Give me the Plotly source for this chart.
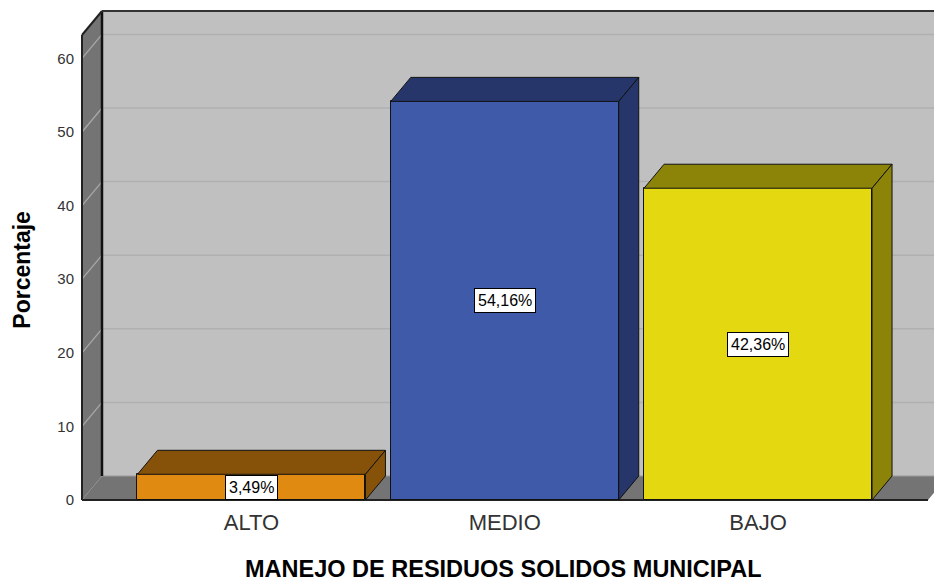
import plotly.graph_objects as go

# ---- data ----
categories = ["ALTO", "MEDIO", "BAJO"]
percentages = [3.49, 54.16, 42.36]
value_labels = ["3,49%", "54,16%", "42,36%"]
y_tick_values = [0, 10, 20, 30, 40, 50, 60]
front_colors = ["#E08A12", "#3F5AA8", "#E4D811"]
dark_colors = ["#86520A", "#26366A", "#8C8309"]

# ---- geometry (axis units) ----
# the page body adds an 8px offset; margins are shifted to compensate
W, H = 934, 577
ML, MR, MT, MB = 72, 0, 1, 83
PX = 253.3          # px per category unit
PY = 7.36           # px per percent
X0 = -0.669         # front-left edge of the chart box
XR = X0 + 846 / PX  # front-right edge of the floor
DX = 20 / PX        # depth offset x
DY = 24 / PY        # depth offset y
YTOP = (500 - 11) / PY
xr0 = X0 - 2 / PX
xr1 = xr0 + (W - ML - MR) / PX
yr0 = -2 / PY
yr1 = yr0 + (H - MT - MB) / PY
BW = 0.9

xs = list(range(len(categories)))
fig = go.Figure()

# front faces
fig.add_trace(go.Bar(
    x=xs, y=percentages, width=BW,
    marker=dict(color=front_colors, line=dict(color="#111111", width=1)),
    hoverinfo="skip", showlegend=False,
))

# top and side faces
for xc, v, dc in zip(xs, percentages, dark_colors):
    l, r = xc - BW / 2, xc + BW / 2
    fig.add_trace(go.Scatter(
        x=[l, r, r + DX, l + DX, l], y=[v, v, v + DY, v + DY, v],
        mode="lines", fill="toself", fillcolor=dc,
        line=dict(color="#111111", width=1), hoverinfo="skip", showlegend=False))
    fig.add_trace(go.Scatter(
        x=[r, r + DX, r + DX, r, r], y=[0, DY, v + DY, v, 0],
        mode="lines", fill="toself", fillcolor=dc,
        line=dict(color="#111111", width=1), hoverinfo="skip", showlegend=False))

shapes = []
# back wall
shapes.append(dict(type="rect", xref="x", yref="y", x0=X0 + DX, x1=xr1 + 1, y0=DY, y1=YTOP,
                   fillcolor="#C0C0C0", line=dict(width=0), layer="below"))
# left wall
shapes.append(dict(type="path", xref="x", yref="y",
                   path=f"M{X0},0 L{X0+DX},{DY} L{X0+DX},{YTOP} L{X0},{YTOP-DY} Z",
                   fillcolor="#747474", line=dict(width=0), layer="below"))
# floor
shapes.append(dict(type="path", xref="x", yref="y",
                   path=f"M{X0},0 L{XR},0 L{XR+DX},{DY} L{X0+DX},{DY} Z",
                   fillcolor="#747474", line=dict(width=0), layer="below"))
# gridlines
for v in y_tick_values[1:]:
    shapes.append(dict(type="line", xref="x", yref="y", x0=X0 + DX, x1=xr1 + 1,
                       y0=v + DY, y1=v + DY, line=dict(color="#B0B0B0", width=1.5), layer="below"))
    shapes.append(dict(type="line", xref="x", yref="y", x0=X0, x1=X0 + DX,
                       y0=v, y1=v + DY, line=dict(color="#A8A8A8", width=1.3), layer="below"))
# floor back edge
shapes.append(dict(type="line", xref="x", yref="y", x0=X0 + DX, x1=xr1 + 1, y0=DY, y1=DY,
                   line=dict(color="#9A9A9A", width=1.2), layer="below"))
# box edges
edge = dict(color="#222222", width=2)
shapes += [
    dict(type="line", xref="x", yref="y", x0=X0, x1=X0, y0=0, y1=YTOP - DY, line=edge, layer="below"),
    dict(type="line", xref="x", yref="y", x0=X0 + DX, x1=X0 + DX, y0=DY, y1=YTOP,
         line=dict(color="#111111", width=2.5), layer="below"),
    dict(type="line", xref="x", yref="y", x0=X0, x1=X0 + DX, y0=YTOP - DY, y1=YTOP, line=edge, layer="below"),
    dict(type="line", xref="x", yref="y", x0=X0 + DX, x1=xr1 + 1, y0=YTOP, y1=YTOP,
         line=dict(color="#333333", width=2), layer="below"),
    dict(type="line", xref="x", yref="y", x0=X0, x1=XR, y0=0, y1=0, line=edge, layer="below"),
]

annotations = []
for xc, v, t in zip(xs, percentages, value_labels):
    annotations.append(dict(x=xc, y=v / 2, xref="x", yref="y", text=t, showarrow=False,
                            font=dict(family="Liberation Sans, Arial", size=16, color="#000000"),
                            bgcolor="#FFFFFF", bordercolor="#000000", borderwidth=1, borderpad=3))
# y axis title, centred on the front plane of the chart box
annotations.append(dict(x=0, xref="paper", xanchor="center", xshift=-58,
                        y=(YTOP - DY) / 2 - 0.3, yref="y", yanchor="middle",
                        text="<b>Porcentaje</b>", textangle=-90, showarrow=False,
                        font=dict(family="Liberation Sans, Arial", size=23, color="#000000")))
# x axis title
annotations.append(dict(x=0.5, xref="paper", xanchor="center", xshift=-8,
                        y=0, yref="paper", yanchor="bottom", yshift=-82,
                        text="<b>MANEJO DE RESIDUOS SOLIDOS MUNICIPAL</b>", showarrow=False,
                        font=dict(family="Liberation Sans, Arial", size=23.5, color="#000000")))

fig.update_layout(
    width=W, height=H,
    margin=dict(l=ML, r=MR, t=MT, b=MB),
    paper_bgcolor="#FFFFFF", plot_bgcolor="#FFFFFF",
    font=dict(family="Liberation Sans, Arial", color="#222222"),
    shapes=shapes, annotations=annotations, bargap=0,
    xaxis=dict(range=[xr0, xr1], tickvals=xs, ticktext=categories, showgrid=False,
               zeroline=False, showline=False, ticks="", ticklabelstandoff=5,
               tickfont=dict(size=22, color="#333333")),
    yaxis=dict(range=[yr0, yr1], tickvals=y_tick_values, showgrid=False, zeroline=False,
               showline=False, ticks="", ticklabelstandoff=5,
               tickfont=dict(size=15, color="#333333")),
)

fig.write_html("out.html")
